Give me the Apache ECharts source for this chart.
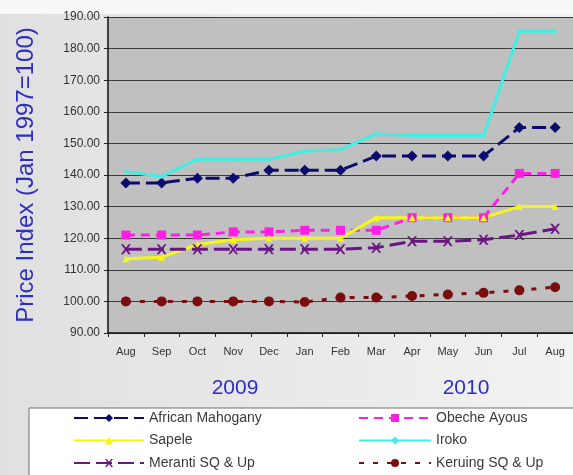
<!DOCTYPE html>
<html>
<head>
<meta charset="utf-8">
<script src="https://cdn.jsdelivr.net/npm/echarts@6/dist/echarts.min.js"></script>
<style>
  html, body { margin: 0; padding: 0; background: #ffffff; }
  #chart { width: 573px; height: 475px; }
</style>
</head>
<body>
<div id="chart"></div>
<script>
// Month categories, Aug 2009 .. Aug 2010
const months = ['Aug', 'Sep', 'Oct', 'Nov', 'Dec', 'Jan', 'Feb', 'Mar', 'Apr', 'May', 'Jun', 'Jul', 'Aug'];
const yearLabels = ['2009', '2010'];

// Price index per species (Jan 1997 = 100)
const africanMahogany = [137.5, 137.5, 139, 139, 141.5, 141.5, 141.5, 146, 146, 146, 146, 155, 155];
const obecheAyous     = [121, 121, 121, 122, 122, 122.5, 122.5, 122.5, 126.5, 126.5, 126.5, 140.5, 140.5];
const sapele          = [113.5, 114, 118, 119.5, 120, 120, 120, 126.5, 126.5, 126.5, 126.5, 130, 130];
const iroko           = [141, 139.5, 145, 145, 145, 147.5, 148, 153, 152.5, 152.5, 152.5, 185.5, 185.5];
const meranti         = [116.5, 116.5, 116.5, 116.5, 116.5, 116.5, 116.5, 117, 119, 119, 119.5, 121, 123];
const keruing         = [100, 100, 100, 100, 100, 99.8, 101.2, 101.2, 101.7, 102.2, 102.7, 103.5, 104.5];

// Y axis range
const yMin = 90, yMax = 190, yStep = 10;

const starMark = 'path://M0,0L2.2,0L5,3.4L7.8,0L10,0L6.2,5L10,10L7.8,10L5,6.6L2.2,10L0,10L3.8,5Z';

function lineSeries(name, data, color, dash, symbol, size) {
  return {
    name: name,
    type: 'line',
    data: data,
    symbol: symbol,
    symbolSize: size,
    showSymbol: true,
    lineStyle: { color: color, width: 3, type: dash },
    itemStyle: { color: color, borderWidth: 0 },
    emphasis: { disabled: true },
    animation: false
  };
}

const chart = echarts.init(document.getElementById('chart'));

chart.setOption({
  backgroundColor: {
    type: 'linear', x: 0, y: 0, x2: 1, y2: 0,
    colorStops: [{ offset: 0, color: '#e0e0e0' }, { offset: 1, color: '#f2f2f2' }]
  },
  textStyle: { fontFamily: 'Liberation Sans, Arial, sans-serif' },
  grid: {
    left: 108, top: 17, right: -7, bottom: 142,
    show: true, backgroundColor: '#c0c0c0', borderWidth: 0
  },
  graphic: [
    { type: 'rect', z: -1, shape: { x: 0, y: 0, width: 573, height: 14 }, style: { fill: '#f8f8f8' } },
    { type: 'rect', shape: { x: 29, y: 408, width: 560, height: 70 },
      style: { fill: '#ffffff', stroke: '#707070', lineWidth: 1 } },
    { type: 'text', style: { x: 235, y: 388, text: yearLabels[0], fill: '#2e2ec0',
      font: '21px Liberation Sans, Arial, sans-serif', textAlign: 'center', textVerticalAlign: 'middle' } },
    { type: 'text', style: { x: 466, y: 388, text: yearLabels[1], fill: '#2e2ec0',
      font: '21px Liberation Sans, Arial, sans-serif', textAlign: 'center', textVerticalAlign: 'middle' } }
  ],
  xAxis: {
    type: 'category',
    data: months,
    boundaryGap: true,
    axisLine: { lineStyle: { color: '#111', width: 1.5 } },
    axisTick: { show: true, length: 4, lineStyle: { color: '#222' } },
    axisLabel: { color: '#333', fontSize: 11, margin: 13, interval: 0 },
    splitLine: { show: false }
  },
  yAxis: {
    type: 'value',
    min: yMin, max: yMax, interval: yStep,
    name: 'Price Index (Jan 1997=100)',
    nameLocation: 'middle',
    nameRotate: 90,
    nameGap: 70,
    nameTextStyle: { color: '#2e2ec0', fontSize: 24 },
    axisLine: { show: true, lineStyle: { color: '#111', width: 1.5 } },
    axisTick: { show: true, length: 4, lineStyle: { color: '#222' } },
    axisLabel: { color: '#333', fontSize: 12, margin: 8, formatter: v => v.toFixed(2) },
    splitLine: { lineStyle: { color: '#3a3a3a', width: 1 } }
  },
  legend: [
    {
      left: 73, top: 411, padding: 0, orient: 'vertical', itemGap: 8.5, itemWidth: 70, itemHeight: 10,
      height: 70,
      textStyle: { color: '#3a3a3a', fontSize: 14, lineHeight: 14 },
      data: ['African Mahogany', 'Sapele', 'Meranti SQ & Up']
    },
    {
      left: 358, top: 411, padding: 0, orient: 'vertical', itemGap: 8.5, itemWidth: 72, itemHeight: 10,
      height: 70,
      textStyle: { color: '#3a3a3a', fontSize: 14, lineHeight: 14 },
      data: ['Obeche Ayous', 'Iroko', 'Keruing SQ & Up']
    }
  ],
  series: [
    lineSeries('African Mahogany', africanMahogany, '#0b0b70', [14, 6], 'diamond', 11),
    lineSeries('Obeche Ayous', obecheAyous, '#ff1ee6', [9, 6], 'rect', 9),
    lineSeries('Sapele', sapele, '#f6f61a', 'solid', 'triangle', 7),
    lineSeries('Iroko', iroko, '#3ef0e2', 'solid', 'diamond', 5),
    lineSeries('Meranti SQ & Up', meranti, '#6a1682', [16, 6], starMark, 10),
    lineSeries('Keruing SQ & Up', keruing, '#7a0d0d', [5, 9], 'circle', 10)
  ]
});
</script>
</body>
</html>
